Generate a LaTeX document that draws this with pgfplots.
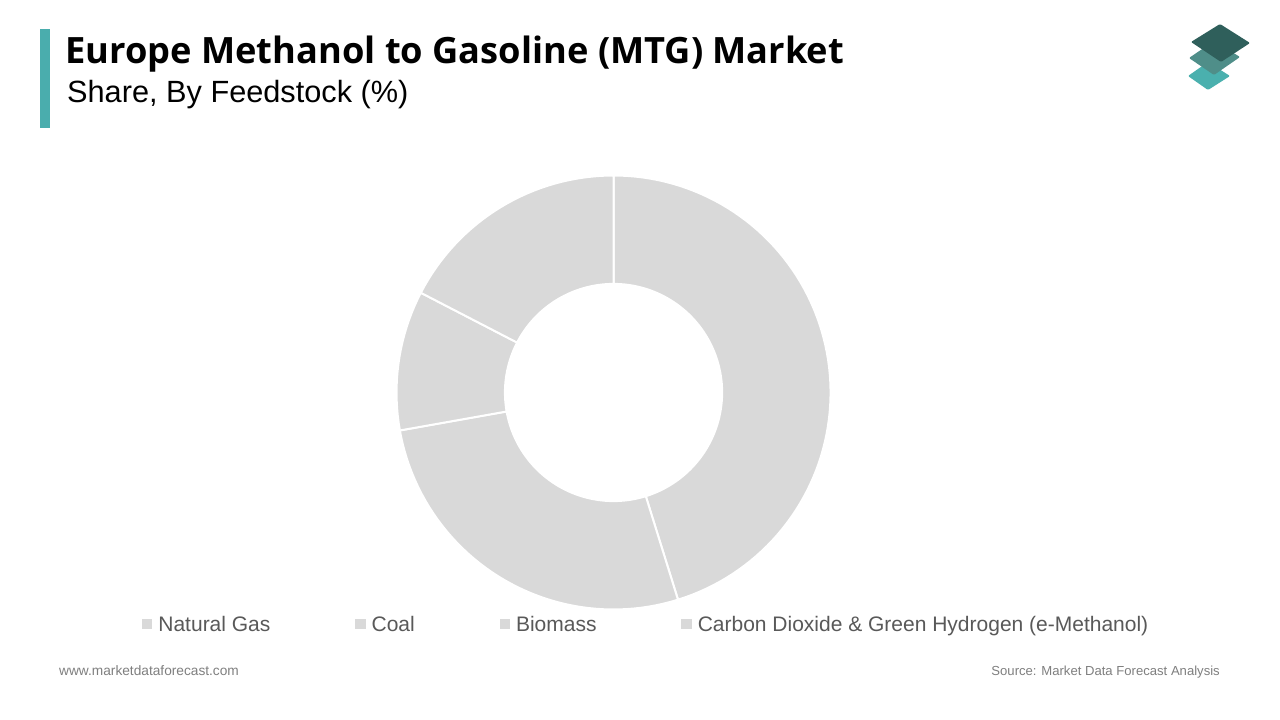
\documentclass[border=0pt]{standalone}
\usepackage{fontspec}
\usepackage{pgfplots}
\pgfplotsset{compat=1.18}
\setmainfont{Liberation Sans}
\newfontfamily\titlefont{Open Sans}
\definecolor{wedge}{HTML}{D9D9D9}
\definecolor{legtxt}{HTML}{595959}
\definecolor{foot}{HTML}{7F7F7F}
\definecolor{teal1}{HTML}{4AADAD}
\definecolor{logoA}{HTML}{2F5F5B}
\definecolor{logoB}{HTML}{4F8E89}
\definecolor{logoC}{HTML}{4AB0AE}
\newcommand\rout{217}
\newcommand\rin{108.6}
\gdef\cum{0}
% one ring sector; #1 is the share in per cent
\newcommand\sector[1]{%
  \pgfmathsetmacro\sa{3.6*\cum}%
  \pgfmathsetmacro\sb{3.6*(\cum+#1)}%
  \pgfmathtruncatemacro\nn{ceil((\sb-\sa)/2)}%
  \gdef\cl{}%
  \foreach \i in {0,...,\nn}{%
    \pgfmathsetmacro\ang{90-\sa-(\sb-\sa)*\i/\nn}%
    \xdef\cl{\cl (\ang,\rout)}%
  }%
  \foreach \i in {\nn,...,0}{%
    \pgfmathsetmacro\ang{90-\sa-(\sb-\sa)*\i/\nn}%
    \xdef\cl{\cl (\ang,\rin)}%
  }%
  \pgfmathsetmacro\newcum{\cum+#1}%
  \xdef\cum{\newcum}%
  \edef\cmd{\noexpand\addplot[data cs=polar,fill=wedge,draw=white,line width=2pt,mark=none] coordinates {\cl} --cycle;}%
  \cmd
}
\begin{document}
\begin{tikzpicture}[x=1pt,y=1pt]
\fill[white] (0,0) rectangle (1280,720);
\begin{axis}[
  at={(0,0)},anchor=south west,
  width=1280pt,height=720pt,scale only axis,
  xmin=-613.5,xmax=666.5,ymin=-327.5,ymax=392.5,
  hide axis,clip=false,
  legend columns=4,
  legend cell align=left,
  legend image code/.code={\fill[wedge] (0pt,-4.2pt) rectangle (8.4pt,4.2pt);},
  legend style={at={(142/1280,1-624/720)},anchor=west,draw=none,fill=none,
    inner sep=0pt,outer sep=0pt,
    font=\fontsize{21}{24}\selectfont\color{legtxt},
    nodes={inner sep=0pt,text depth=0pt},
    /tikz/every even column/.append style={column sep=84.8pt},
    /tikz/every odd column/.append style={column sep=6pt},
  },
]
\sector{45.2}\addlegendentry{Natural Gas}
\sector{27.0}\addlegendentry{Coal}
\sector{10.4}\addlegendentry{Biomass}
\sector{17.4}\addlegendentry{Carbon Dioxide \& Green Hydrogen (e-Methanol)}
\end{axis}
\begin{scope}[yshift=720pt,y=-1pt]
\fill[teal1] (40,29) rectangle (50,128);
\node[anchor=base west,inner sep=0pt,font=\titlefont\bfseries\fontsize{36.25}{40}\selectfont] at (65,64) {Europe Methanol to Gasoline (MTG) Market};
\node[anchor=base west,inner sep=0pt,font=\fontsize{30.7}{34}\selectfont] at (67,103) {Share, By Feedstock (\%)};
\node[anchor=base west,inner sep=0pt,text=foot,font=\fontsize{13.7}{15}\selectfont] at (59,675.5) {www.marketdataforecast.com};
\node[anchor=base east,inner sep=0pt,text=foot,font=\fontsize{13.1}{15}\selectfont] at (1220,675.5) {Source: Market Data Forecast Analysis};
\fill[logoC,rounded corners=1pt] (1208,62) -- (1230,76) -- (1208,90) -- (1188,76) -- cycle;
\fill[logoB,rounded corners=1pt] (1214,41) -- (1240,57) -- (1214,75) -- (1189,58) -- cycle;
\fill[logoA,rounded corners=1pt] (1220,24) -- (1250,43) -- (1221,62) -- (1191,42) -- cycle;
\end{scope}
\end{tikzpicture}
\end{document}
